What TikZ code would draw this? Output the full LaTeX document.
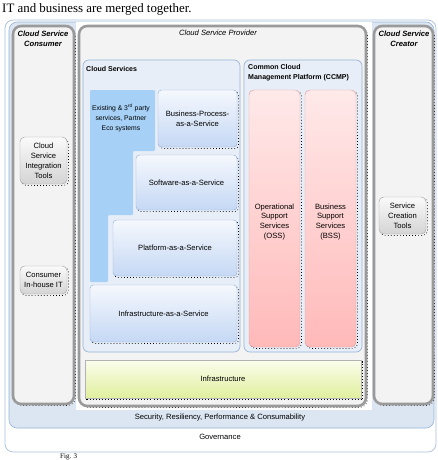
\documentclass[tikz,border=0pt]{standalone}
\usepackage{fontspec}
\setmainfont{Liberation Serif}
\setsansfont{Liberation Sans}
\usepackage{xcolor}
\usepackage{tikz}
\usetikzlibrary{positioning, fit, calc}

\definecolor{govline}{HTML}{A9BFDA}
\definecolor{secfill}{HTML}{DCE6F2}
\definecolor{secline}{HTML}{95B3D7}
\definecolor{colline}{HTML}{9A9A9A}
\definecolor{colfill}{HTML}{F3F3F3}
\definecolor{csfill}{HTML}{E8EEF7}
\definecolor{extblue}{HTML}{A6D0F6}
\definecolor{svctop}{HTML}{F5F8FD}
\definecolor{svcbot}{HTML}{C5D8F4}
\definecolor{svcline}{HTML}{9AB4DC}
\definecolor{osstop}{HTML}{FFE9E9}
\definecolor{ossbot}{HTML}{FFB9B9}
\definecolor{osline}{HTML}{D9A0A0}
\definecolor{inftop}{HTML}{FBFDEC}
\definecolor{infbot}{HTML}{E0EF9E}
\definecolor{tooltop}{HTML}{FAFAFA}
\definecolor{toolbot}{HTML}{D4D4D4}

\begin{document}
\begin{tikzpicture}[
  x=0.3mm, y=-0.3mm,
  every node/.style={font=\sffamily\fontsize{6.5}{8.5}\selectfont, inner sep=0pt, align=center},
  dotshadow/.style={preaction={draw=black, dotted, line width=0.6pt, transform canvas={shift={(0.45mm,-0.45mm)}}}},
  govbox/.style={draw=govline, fill=white, rounded corners=7pt, line width=0.6pt},
  secbox/.style={draw=secline, fill=secfill, rounded corners=7pt, line width=0.5pt},
  column/.style={draw=colline, fill=colfill, rounded corners=7pt, line width=2.2pt, dotshadow},
  areabox/.style={draw=secline, fill=csfill, rounded corners=5pt, line width=0.6pt},
  svcbox/.style={draw=svcline, top color=svctop, bottom color=svcbot, rounded corners=3pt, line width=0.4pt, dotshadow},
  ossbox/.style={draw=osline, top color=osstop, bottom color=ossbot, rounded corners=4pt, line width=0.4pt, dotshadow},
  infbox/.style={draw=gray!60, top color=inftop, bottom color=infbot, line width=0.4pt, dotshadow},
  toolbox/.style={draw=gray!70, top color=tooltop, bottom color=toolbot, rounded corners=4pt, line width=0.4pt, dotshadow},
  title/.style={font=\sffamily\itshape\bfseries\fontsize{6.5}{8.5}\selectfont},
  heading/.style={font=\sffamily\bfseries\fontsize{6}{8.5}\selectfont, align=left},
  pageline/.style={font=\rmfamily\fontsize{11}{13}\selectfont, anchor=base west}
]
  \useasboundingbox (0,0) rectangle (438,460);

  % lines of the page around the figure
  \node[pageline] (pagetext) at (2,12) {IT and business are merged together.};
  \node[pageline, font=\rmfamily\fontsize{6}{7}\selectfont] (caption) at (60,458.5) {Fig. 3};

  % governance and security layers
  \node[govbox, fit={(5,20) (436,452)}] (gov) {};
  \node[secbox, fit={(9,22) (434,428)}] (sec) {};
  \fill[white] (76,22) rectangle (372,410);
  \node (govtext) at (220,437) {Governance};
  \node (sectext) at (220,418) {Security, Resiliency, Performance \& Consumability};

  % three columns
  \node[column, fit={(13,26) (74,404)}] (consumer) {};
  \node[column, fit={(79,26) (366,406)}] (provider) {};
  \node[column, fit={(374,26) (433,404)}] (creator) {};
  \node[title] (consumertitle) at (43,39) {Cloud Service\\Consumer};
  \node[title, font=\sffamily\itshape\fontsize{6.5}{8.5}\selectfont] (providertitle) at (218,33) {Cloud Service Provider};
  \node[title] (creatortitle) at (404,39) {Cloud Service\\Creator};

  % consumer and creator tools
  \node[toolbox, fit={(20,137) (67,184)}] (integration) {};
  \node (integrationtext) at (integration.center) {Cloud\\Service\\Integration\\Tools};
  \node[toolbox, fit={(20,266) (67,294)}] (inhouse) {};
  \node (inhousetext) at (inhouse.center) {Consumer\\In-house IT};
  \node[toolbox, fit={(379,197) (426,234)}] (creation) {};
  \node (creationtext) at (creation.center) {Service\\Creation\\Tools};

  % cloud services
  \node[areabox, fit={(83,60) (240,352)}] (services) {};
  \node[heading, anchor=west] (servicestitle) at (86,69) {Cloud Services};
  \fill[extblue, rounded corners=1pt] (90,90) -- (155,90) -- (155,151) -- (133,151) -- (133,215)
    -- (108,215) -- (108,282) -- (90,282) -- cycle;
  \node[font=\sffamily\fontsize{5.8}{8.5}\selectfont] (existing) at (121,118) {Existing \& 3\textsuperscript{rd} party\\services, Partner\\Eco systems};
  \node[svcbox, fit={(158,90) (237,147)}] (bpaas) {};
  \node (bpaastext) at (bpaas.center) {Business-Process-\\as-a-Service};
  \node[svcbox, fit={(136,155) (237,210)}] (saas) {};
  \node (saastext) at (saas.center) {Software-as-a-Service};
  \node[svcbox, fit={(113,220) (237,276)}] (paas) {};
  \node (paastext) at (paas.center) {Platform-as-a-Service};
  \node[svcbox, fit={(90,285) (237,342)}] (iaas) {};
  \node (iaastext) at (iaas.center) {Infrastructure-as-a-Service};

  % management platform
  \node[areabox, fit={(244,60) (362,352)}] (ccmp) {};
  \node[heading, anchor=north west] (ccmptitle) at (248,64) {Common Cloud\\Management Platform (CCMP)};
  \node[ossbox, fit={(249,90) (300,347)}] (oss) {};
  \node (osstext) at (274.5,222) {Operational\\Support\\Services\\(OSS)};
  \node[ossbox, fit={(305,90) (356,347)}] (bss) {};
  \node (bsstext) at (330.5,222) {Business\\Support\\Services\\(BSS)};

  % infrastructure
  \node[infbox, fit={(85,360) (361,398)}] (infra) {};
  \node (infratext) at (infra.center) {Infrastructure};
\end{tikzpicture}
\end{document}
